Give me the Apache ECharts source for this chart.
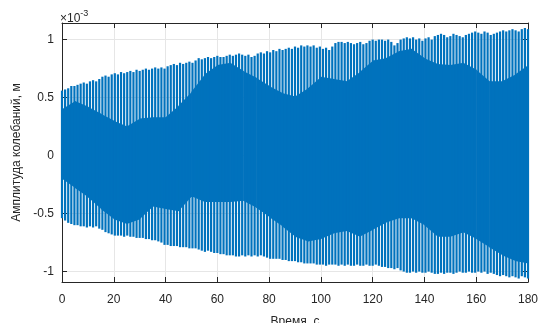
<!DOCTYPE html>
<html>
<head>
<meta charset="utf-8">
<script src="https://cdn.jsdelivr.net/npm/echarts@6/dist/echarts.min.js"></script>
<style>
  html, body { margin: 0; padding: 0; background: #fff; }
  #chart { width: 540px; height: 323px; }
</style>
</head>
<body>
<div id="chart"></div>
<script>
// values in units of 1e-3 m
const spikeStep = 1.2   // seconds between visible oscillation peaks
const spikeTop = [
  0.56, 0.57, 0.58, 0.60, 0.60, 0.61, 0.62, 0.63, 0.62, 0.64,
  0.65, 0.64, 0.66, 0.68, 0.69, 0.68, 0.70, 0.71, 0.70, 0.72,
  0.71, 0.72, 0.73, 0.72, 0.74, 0.73, 0.74, 0.75, 0.74, 0.75,
  0.76, 0.75, 0.76, 0.75, 0.77, 0.78, 0.79, 0.78, 0.80, 0.79,
  0.80, 0.81, 0.80, 0.82, 0.84, 0.83, 0.84, 0.85, 0.84, 0.85,
  0.86, 0.85, 0.85, 0.86, 0.87, 0.86, 0.87, 0.88, 0.87, 0.86,
  0.87, 0.85, 0.86, 0.88, 0.89, 0.88, 0.90, 0.89, 0.91, 0.90,
  0.92, 0.91, 0.92, 0.93, 0.92, 0.94, 0.93, 0.95, 0.94, 0.95,
  0.94, 0.95, 0.93, 0.94, 0.92, 0.93, 0.91, 0.94, 0.97, 0.98,
  0.98, 0.97, 0.98, 0.97, 0.96, 0.97, 0.98, 0.96, 0.97, 0.99,
  1.00, 0.99, 1.00, 1.00, 0.99, 1.00, 0.98, 0.95, 0.97, 1.00,
  1.01, 1.02, 1.01, 1.02, 1.00, 1.01, 0.99, 1.01, 1.02, 1.00,
  1.03, 1.04, 1.05, 1.04, 1.02, 1.03, 1.05, 1.04, 1.03, 1.02,
  1.04, 1.05, 1.06, 1.07, 1.06, 1.05, 1.07, 1.06, 1.04, 1.05,
  1.06, 1.07, 1.08, 1.07, 1.08, 1.09, 1.08, 1.07, 1.09, 1.10, 1.09
]
const spikeBottom = [
  -0.54, -0.56, -0.58, -0.59, -0.60, -0.60, -0.61, -0.61, -0.62, -0.61,
  -0.62, -0.61, -0.63, -0.64, -0.66, -0.67, -0.68, -0.69, -0.69, -0.69,
  -0.70, -0.69, -0.70, -0.70, -0.71, -0.71, -0.71, -0.72, -0.72, -0.73,
  -0.73, -0.74, -0.75, -0.77, -0.77, -0.78, -0.78, -0.78, -0.79, -0.79,
  -0.79, -0.80, -0.80, -0.80, -0.81, -0.82, -0.83, -0.82, -0.83, -0.84,
  -0.84, -0.85, -0.85, -0.86, -0.86, -0.86, -0.87, -0.87, -0.86, -0.87,
  -0.86, -0.87, -0.86, -0.87, -0.86, -0.87, -0.88, -0.89, -0.89, -0.89,
  -0.89, -0.90, -0.90, -0.91, -0.91, -0.91, -0.92, -0.92, -0.93, -0.93,
  -0.93, -0.93, -0.94, -0.94, -0.94, -0.95, -0.94, -0.94, -0.94, -0.95,
  -0.94, -0.95, -0.94, -0.95, -0.95, -0.94, -0.95, -0.95, -0.94, -0.95,
  -0.95, -0.94, -0.95, -0.96, -0.96, -0.97, -0.97, -0.98, -0.97, -0.99,
  -1.00, -1.01, -1.01, -1.00, -1.01, -1.00, -1.01, -1.01, -1.00, -1.01,
  -1.02, -1.02, -1.01, -1.02, -1.01, -1.01, -1.02, -1.01, -1.00, -1.01,
  -1.01, -1.00, -1.01, -1.01, -1.00, -1.01, -1.00, -1.02, -1.01, -1.02,
  -1.03, -1.04, -1.03, -1.04, -1.05, -1.04, -1.05, -1.06, -1.04, -1.05, -1.06
]

// dense core of the oscillation (where the beats overlap), every 5 s
const coreTime = [0, 5, 10, 15, 20, 25, 30, 35, 40, 45, 50, 55, 60, 65, 70, 75, 80, 85, 90,
  95, 100, 105, 110, 115, 120, 125, 130, 135, 140, 145, 150, 155, 160, 165, 170, 175, 180]
const coreTop = [0.40, 0.47, 0.42, 0.36, 0.30, 0.25, 0.32, 0.33, 0.33, 0.43, 0.55, 0.70, 0.78,
  0.80, 0.73, 0.67, 0.60, 0.54, 0.51, 0.58, 0.68, 0.66, 0.64, 0.72, 0.82, 0.84, 0.90, 0.92,
  0.84, 0.79, 0.78, 0.80, 0.74, 0.64, 0.64, 0.70, 0.78]
const coreBottom = [-0.20, -0.28, -0.36, -0.46, -0.55, -0.59, -0.55, -0.44, -0.46, -0.48, -0.35,
  -0.40, -0.40, -0.40, -0.39, -0.45, -0.53, -0.61, -0.70, -0.74, -0.72, -0.67, -0.65, -0.70,
  -0.64, -0.58, -0.54, -0.54, -0.60, -0.70, -0.70, -0.66, -0.72, -0.79, -0.86, -0.91, -0.93]

const yTicks = [-1, -0.5, 0, 0.5, 1]

const lineColor = '#0072bd'
const axisColor = '#262626'
const font = 'Liberation Sans, Arial, sans-serif'

const chart = echarts.init(document.getElementById('chart'))

const spikeData = spikeTop.map((v, i) => [i * spikeStep, spikeBottom[i], v])
// one quad per interval of the core band
const coreData = coreTime.slice(0, -1).map((t, i) => [
  t, coreTime[i + 1], coreBottom[i], coreTop[i], coreBottom[i + 1], coreTop[i + 1]
])

const yLabelText = v => (v === 0 ? '0' : String(v))

const option = {
  animation: false,
  grid: { left: 62, right: 12, top: 23, bottom: 41, containLabel: false, outerBoundsMode: 'none' },
  graphic: [{
    type: 'text',
    left: 60,
    top: 9,
    style: {
      text: '{a|\u00d710}{b|-3}',
      rich: {
        a: { fontSize: 12, fontFamily: font, fill: axisColor, padding: [4, 0, 0, 0] },
        b: { fontSize: 9, fontFamily: font, fill: axisColor, verticalAlign: 'top' }
      }
    }
  }],
  xAxis: [{
    type: 'value', min: 0, max: 180, interval: 20,
    name: 'Время, с', nameLocation: 'middle', nameGap: 34,
    nameTextStyle: { color: axisColor, fontSize: 12, fontFamily: font },
    axisLine: { onZero: false, lineStyle: { color: axisColor } },
    axisTick: { inside: true, length: 5, lineStyle: { color: axisColor } },
    axisLabel: { color: axisColor, fontSize: 12, fontFamily: font, margin: 12 },
    splitLine: { show: true, lineStyle: { color: '#e6e6e6' } }
  }, {
    type: 'value', min: 0, max: 180, interval: 20, position: 'top',
    axisLine: { onZero: false, lineStyle: { color: axisColor } },
    axisTick: { inside: true, length: 5, lineStyle: { color: axisColor } },
    axisLabel: { show: false },
    splitLine: { show: false }
  }],
  yAxis: [{
    type: 'value', min: -1.09, max: 1.143,
    name: 'Амплитуда колебаний, м', nameLocation: 'middle', nameGap: 36,
    nameTextStyle: { color: axisColor, fontSize: 12, fontFamily: font },
    axisLine: { onZero: false, lineStyle: { color: axisColor } },
    axisTick: { inside: true, length: 5, customValues: yTicks, lineStyle: { color: axisColor } },
    axisLabel: { color: axisColor, fontSize: 12, fontFamily: font, margin: 8,
      customValues: yTicks, formatter: yLabelText },
    splitLine: { show: true, lineStyle: { color: '#e6e6e6' } }
  }, {
    type: 'value', min: -1.09, max: 1.143, position: 'right',
    axisLine: { onZero: false, lineStyle: { color: axisColor } },
    axisTick: { inside: true, length: 5, customValues: yTicks, lineStyle: { color: axisColor } },
    axisLabel: { show: false },
    splitLine: { show: false }
  }],
  series: [{
    type: 'custom',
    data: coreData,
    encode: { x: [0, 1], y: [2, 3, 4, 5] },
    renderItem: (params, api) => {
      const a = api.coord([api.value(0), api.value(2)])
      const b = api.coord([api.value(0), api.value(3)])
      const c = api.coord([api.value(1), api.value(5)])
      const d = api.coord([api.value(1), api.value(4)])
      return {
        type: 'polygon',
        shape: { points: [[a[0], a[1]], [b[0], b[1]], [c[0] + 0.5, c[1]], [d[0] + 0.5, d[1]]] },
        style: { fill: lineColor }
      }
    },
    z: 2
  }, {
    type: 'custom',
    data: spikeData,
    encode: { x: 0, y: [1, 2] },
    renderItem: (params, api) => {
      const lo = api.coord([api.value(0), api.value(1)])
      const hi = api.coord([api.value(0), api.value(2)])
      return {
        type: 'rect',
        shape: { x: lo[0] - 1.1, y: hi[1], width: 2.2, height: lo[1] - hi[1] },
        style: { fill: lineColor }
      }
    },
    z: 3
  }]
}

chart.setOption(option)
</script>
</body>
</html>
